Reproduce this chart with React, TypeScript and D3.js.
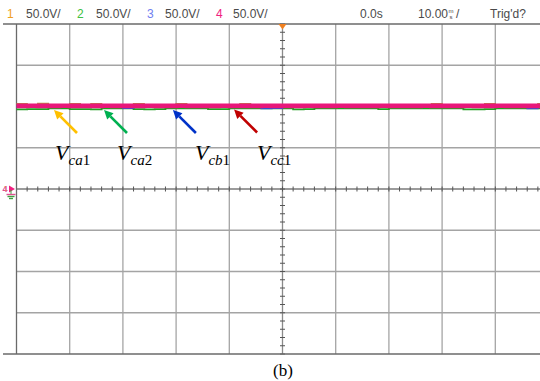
import React from "react";
import * as d3 from "d3";

// Oscilloscope settings
const VOLTS_PER_DIV = 50;
const MS_PER_DIV = 10;
const T0 = -50; // ms, first sample
const DT = 2; // ms, sample step

// Header labels
const channelIds = ["1", "2", "3", "4"];
const channelScales = ["50.0V/", "50.0V/", "50.0V/", "50.0V/"];
const channelColors = ["#f0a020", "#40c040", "#7080f0", "#f02080"];
const timeOffsetLabel = "0.0s";
const timeScaleLabel = "10.00";
const trigLabel = "Trig'd?";

// Traces (V), sampled every 2 ms from -50 ms
const vca1 = [103.4, 101.5, 103.6, 101, 101.5, 103.4, 101, 103.5, 101, 101.5, 101, 103.3, 101.5, 101, 101.2, 103.4, 101, 101.5, 101, 101.3, 101, 103.3, 101, 101, 101.5, 101, 101.2, 101, 101, 101.4, 101, 101, 101.5, 101, 101, 101.2, 101, 101, 101, 103.3, 101, 101.3, 101, 101, 103.4, 101, 101, 101, 101.5, 103.3, 101];
const vca2 = [96.6, 96.8, 96.7, 97.9, 97.8, 96.7, 96.8, 96.6, 97.9, 97.8, 97.9, 96.7, 96.5, 96.8, 97.8, 97.9, 97.7, 97.8, 96.8, 96.7, 97.7, 97.9, 97.8, 97.9, 97.7, 97.8, 96.5, 96.7, 97.7, 97.8, 97.9, 97.7, 97.8, 97.8, 96.8, 97.7, 97.9, 97.8, 97.7, 97.9, 97.8, 97.8, 96.6, 96.5, 96.8, 97.9, 97.7, 97.8, 97.9, 97.7, 97.8];
const vcb1 = [99.5, 99.6, 99.4, 99.5, 99.6, 99.5, 99.4, 99.5, 99.6, 99.5, 97.8, 99.5, 99.4, 99.6, 99.5, 99.5, 99.4, 99.6, 99.5, 99.5, 99.4, 99.6, 99.5, 97.6, 97.8, 99.5, 99.4, 99.6, 99.5, 99.4, 99.5, 99.6, 99.5, 99.4, 99.5, 99.6, 99.5, 99.4, 99.5, 99.6, 99.5, 99.4, 99.5, 99.6, 99.5, 99.4, 99.5, 99.6, 97.7, 99.5, 99.4];
const vcc1 = [100.8, 100.9, 100.7, 100.8, 100.9, 100.8, 100.7, 100.8, 100.9, 100.8, 100.8, 100.7, 100.9, 100.8, 100.8, 100.9, 100.7, 100.8, 100.8, 100.9, 100.8, 100.7, 100.8, 100.9, 100.8, 100.8, 100.7, 100.9, 100.8, 100.8, 100.9, 100.7, 100.8, 100.8, 100.9, 100.8, 100.7, 100.8, 100.9, 100.8, 100.8, 100.7, 100.9, 100.8, 100.8, 100.9, 100.7, 100.8, 100.8, 100.9, 100.8];
const traceSeries = [vca1, vca2, vcb1, vcc1];
const traceColors = ["#b89040", "#20a020", "#3050d0", "#e8177a"];
const traceWidths = [1.4, 1.8, 1.6, 4.6];

// Annotations: arrow tip (ms, V), label anchor (ms, V)
const annoBase = ["ca", "ca", "cb", "cc"];
const annoNum = ["1", "2", "1", "1"];
const annoTipT = [-42.95, -33.55, -20.6, -9.1];
const annoTipV = [95.8, 95.8, 95.8, 96.4];
const annoLabelT = [-42.76, -31.1, -16.45, -4.8];
const annoLabelV = [35.2, 35.2, 35.2, 35.2];
const annoColors = ["#ffc000", "#00b050", "#0032c8", "#c00000"];

export default function App() {
  const W = 540, H = 381;
  const x = d3.scaleLinear().domain([-5 * MS_PER_DIV, 5 * MS_PER_DIV]).range([16.5, 548.5]);
  const y = d3.scaleLinear().domain([-4 * VOLTS_PER_DIV, 4 * VOLTS_PER_DIV]).range([354, 24]);

  const vTicks = d3.range(-4, 11).map((k) => k * MS_PER_DIV);
  const hTicks = d3.range(-4, 5).map((k) => k * VOLTS_PER_DIV);
  const minorT = d3.range(-50, 51, MS_PER_DIV / 5);
  const minorV = d3.range(-200, 201, VOLTS_PER_DIV / 5);

  const line = (vals: number[]) =>
    d3
      .line<number>()
      .x((_, i) => x(T0 + i * DT))
      .y((v) => y(v))
      .curve(d3.curveStepAfter)(vals) || "";

  const gridColor = "#a4a4a4";
  const borderColor = "#6a6a6a";
  const cx = x(0), cy = y(0);

  const headerX = [[7, 26], [77, 96], [147, 165], [216, 233]];

  return (
    <svg
      width={W}
      height={H}
      style={{ position: "absolute", left: 0, top: 0, background: "#fff" }}
      fontFamily="'Liberation Sans', Arial, sans-serif"
    >
      {/* grid */}
      {vTicks
        .filter((t) => t > -50 && t !== 0)
        .map((t) => (
          <line key={"gv" + t} x1={x(t)} x2={x(t)} y1={24} y2={354} stroke={gridColor} strokeWidth={1.3} />
        ))}
      {hTicks
        .filter((v) => v !== 0 && v > -200 && v < 200)
        .map((v) => (
          <line key={"gh" + v} x1={x(-50)} x2={W} y1={y(v)} y2={y(v)} stroke={gridColor} strokeWidth={1.3} />
        ))}
      {/* center axes */}
      <line x1={cx} x2={cx} y1={24} y2={354} stroke="#8a8a8a" strokeWidth={1.3} />
      <line x1={x(-50)} x2={W} y1={cy} y2={cy} stroke="#7a7a7a" strokeWidth={1.3} />
      {minorT.map((t) => (
        <line key={"mt" + t} x1={x(t)} x2={x(t)} y1={cy - 2.5} y2={cy + 2.5} stroke="#555" strokeWidth={1} />
      ))}
      {minorV.map((v) => (
        <line key={"mv" + v} x1={cx - 2.5} x2={cx + 2.5} y1={y(v)} y2={y(v)} stroke="#555" strokeWidth={1} />
      ))}
      {/* borders */}
      <line x1={3} x2={W} y1={24} y2={24} stroke={borderColor} strokeWidth={1.3} />
      <line x1={3} x2={W} y1={354} y2={354} stroke={borderColor} strokeWidth={1.3} />
      <line x1={x(-50)} x2={x(-50)} y1={24} y2={354} stroke={borderColor} strokeWidth={1.3} />

      {/* traces */}
      {traceSeries.map((s, i) => (
        <path key={"tr" + i} d={line(s)} fill="none" stroke={traceColors[i]} strokeWidth={traceWidths[i]} />
      ))}

      {/* trigger marker */}
      <polygon points={`${cx - 4},24 ${cx + 4},24 ${cx},29.5`} fill="#f08020" />

      {/* ground / channel markers on left */}
      <g>
        <text x={2.5} y={192} fontSize={9} fill="#e040a0" fontWeight="bold">4</text>
        <text x={3.5} y={191} fontSize={8} fill="#e0a040" opacity={0.7}>1</text>
        <polygon points={`9,${cy - 3.5} 15,${cy} 9,${cy + 3.5}`} fill="#f02080" />
        <line x1={11} x2={11} y1={cy + 1} y2={cy + 5} stroke="#40a040" strokeWidth={1} />
        <line x1={6.5} x2={15.5} y1={cy + 5.5} y2={cy + 5.5} stroke="#e05090" strokeWidth={1.4} />
        <line x1={7.5} x2={14.5} y1={cy + 7.5} y2={cy + 7.5} stroke="#40a040" strokeWidth={1.4} />
        <line x1={9} x2={13} y1={cy + 9.5} y2={cy + 9.5} stroke="#40a040" strokeWidth={1.4} />
      </g>

      {/* header */}
      {channelIds.map((id, i) => (
        <g key={"hd" + i}>
          <text x={headerX[i][0]} y={18} fontSize={12} fill={channelColors[i]}>{id}</text>
          <text x={headerX[i][1]} y={18} fontSize={12} fill="#4a4a4a">{channelScales[i]}</text>
        </g>
      ))}
      <text x={360} y={18} fontSize={12} fill="#4a4a4a">{timeOffsetLabel}</text>
      <text x={418} y={18} fontSize={12} fill="#4a4a4a">{timeScaleLabel}</text>
      <text x={448.5} y={13} fontSize={6} fill="#4a4a4a">m</text>
      <text x={449.5} y={18.5} fontSize={6} fill="#4a4a4a">s</text>
      <text x={456} y={18} fontSize={12} fill="#4a4a4a">/</text>
      <text x={490} y={18} fontSize={12} fill="#4a4a4a">{trigLabel}</text>

      {/* annotations */}
      {annoBase.map((b, i) => {
        const tx = x(annoTipT[i]);
        const ty = y(annoTipV[i]);
        const sx = tx + 23;
        const sy = ty + 23;
        const ang = Math.atan2(ty - sy, tx - sx);
        const hl = 9, hw = 4.5;
        const bx = tx - hl * Math.cos(ang), by = ty - hl * Math.sin(ang);
        const px = -Math.sin(ang), py = Math.cos(ang);
        return (
          <g key={"an" + i}>
            <line x1={sx} y1={sy} x2={bx} y2={by} stroke={annoColors[i]} strokeWidth={2.6} />
            <polygon
              points={`${tx},${ty} ${bx + px * hw},${by + py * hw} ${bx - px * hw},${by - py * hw}`}
              fill={annoColors[i]}
            />
            <text x={x(annoLabelT[i])} y={y(annoLabelV[i])} fontFamily="'Liberation Serif', 'Times New Roman', serif" fill="#000">
              <tspan fontSize={22} fontStyle="italic">V</tspan>
              <tspan fontSize={15} fontStyle="italic" dy={5}>{b}</tspan>
              <tspan fontSize={15}>{annoNum[i]}</tspan>
            </text>
          </g>
        );
      })}

      {/* caption */}
      <text x={283} y={375.5} fontSize={17} textAnchor="middle" fontFamily="'Liberation Serif', 'Times New Roman', serif" fill="#000">
        (b)
      </text>
    </svg>
  );
}
